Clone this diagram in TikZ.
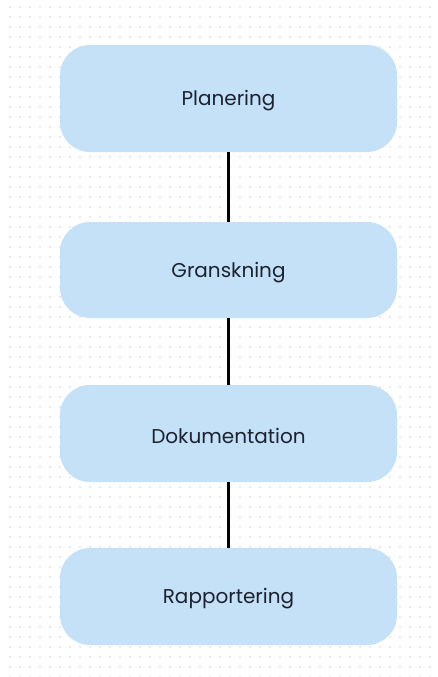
\documentclass[tikz,border=0pt]{standalone}
\usepackage{fontspec}
\setmainfont{Poppins}
\definecolor{boxblue}{HTML}{C4E1F8}
\definecolor{textdark}{HTML}{1C2330}
\tikzset{
  stage/.style={draw=none, fill=boxblue, rounded corners=30pt,
    minimum width=337pt, text=textdark, font=\fontsize{20}{22}\selectfont},
  conn/.style={line width=2.8pt, black}
}
\begin{document}
\begin{tikzpicture}[x=1pt,y=-1pt]
\useasboundingbox (0,0) rectangle (437,677);
\fill[white] (0,0) rectangle (437,677);
% dotted background
\foreach \i in {0,...,43} {
  \foreach \j in {0,...,67} {
    \fill[black!16] (\i*10+10,\j*10+7) circle[radius=0.8];
  }
}
\node[stage, minimum height=107pt] (plan) at (228.5,98.5) {};
\node[stage, minimum height=96pt] (gransk) at (228.5,270) {};
\node[stage, minimum height=97pt] (dok) at (228.5,433.5) {};
\node[stage, minimum height=97pt] (rapp) at (228.5,596.5) {};
\foreach \n/\t in {plan/Planering,gransk/Granskning,dok/Dokumentation,rapp/Rapportering} {
  \node[text=textdark, font=\fontsize{20}{22}\selectfont, yshift=-2.5pt] (\n-label) at (\n) {\t};
}

\draw[conn] (plan) -- (gransk);
\draw[conn] (gransk) -- (dok);
\draw[conn] (dok) -- (rapp);
\end{tikzpicture}
\end{document}
